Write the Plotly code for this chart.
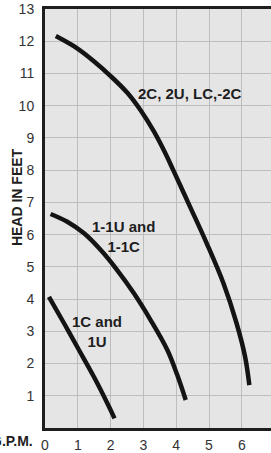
import plotly.graph_objects as go

# Curve data (G.P.M. vs head in feet)
a_gpm = [0.33, 0.98, 1.49, 2.00, 2.51, 2.92, 3.32, 3.68, 3.91, 4.42, 4.93, 5.44, 5.84, 6.10, 6.23]
a_head = [12.16, 11.78, 11.38, 10.92, 10.40, 9.85, 9.20, 8.50, 8.00, 6.87, 5.73, 4.49, 3.25, 2.21, 1.33]
b_gpm = [0.17, 0.68, 1.19, 1.70, 2.20, 2.71, 3.22, 3.73, 4.03, 4.29]
b_head = [6.64, 6.40, 6.04, 5.52, 4.90, 4.18, 3.35, 2.42, 1.65, 0.87]
c_gpm = [0.12, 0.58, 0.98, 1.49, 1.90, 2.12]
c_head = [4.07, 3.25, 2.52, 1.59, 0.77, 0.30]

labels = ["2C, 2U, LC,-2C", "1-1U and<br>1-1C", "1C and<br>1U"]
label_x = [4.42, 2.38, 1.59]
label_y = [10.39, 5.93, 2.98]

x_ticks = [0, 1, 2, 3, 4, 5, 6]
y_ticks = [1, 2, 3, 4, 5, 6, 7, 8, 9, 10, 11, 12, 13]

line_col = "#141414"
fig = go.Figure()
for xs, ys in [(a_gpm, a_head), (b_gpm, b_head), (c_gpm, c_head)]:
    fig.add_trace(go.Scatter(x=xs, y=ys, mode="lines",
                             line=dict(color=line_col, width=4.5, shape="spline", smoothing=1.0),
                             showlegend=False, hoverinfo="skip"))

for t, x, y in zip(labels, label_x, label_y):
    fig.add_annotation(x=x, y=y, xref="x", yref="y", text="<b>" + t + "</b>",
                       showarrow=False, align="center",
                       font=dict(family="Liberation Sans, Arial", size=15, color="#1e1e1e"))

fig.add_annotation(x=-0.124, y=0.551, xref="paper", yref="paper", text="<b>HEAD IN FEET</b>",
                   textangle=-90, showarrow=False, xanchor="center", yanchor="middle",
                   font=dict(family="Liberation Sans, Arial", size=14, color="#1e1e1e"))
fig.add_annotation(x=-0.044, y=-0.03, xref="paper", yref="paper", text="<b>G.P.M.</b>",
                   xanchor="right", yanchor="middle", showarrow=False,
                   font=dict(family="Liberation Sans, Arial", size=14, color="#1e1e1e"))
fig.add_annotation(x=1.016, y=-0.03, xref="paper", yref="paper", text="7",
                   xanchor="center", yanchor="middle", showarrow=False,
                   font=dict(family="Liberation Sans, Arial", size=14, color="#333333"))

fig.update_layout(
    width=271, height=453,
    margin=dict(l=45, r=0, t=9, b=25),
    paper_bgcolor="white", plot_bgcolor="#e5e5e5",
    xaxis=dict(range=[0, 6.89], tickvals=x_ticks, showgrid=True, gridcolor="#bdbdbd", gridwidth=1,
               zeroline=False, showline=True, linecolor="#1e1e1e", linewidth=3, mirror=True,
               ticks="", ticklabelstandoff=2, automargin=False,
               tickfont=dict(family="Liberation Sans, Arial", size=14, color="#333333")),
    yaxis=dict(range=[0, 13], tickvals=y_ticks, showgrid=True, gridcolor="#bdbdbd", gridwidth=1,
               zeroline=False, showline=True, linecolor="#1e1e1e", linewidth=3,
               ticks="", ticklabelstandoff=5, automargin=False,
               tickfont=dict(family="Liberation Sans, Arial", size=14, color="#333333")),
)

fig.write_html("out.html", config={"displayModeBar": False},
               post_script="document.body.style.margin='0';document.body.style.overflow='hidden';")
